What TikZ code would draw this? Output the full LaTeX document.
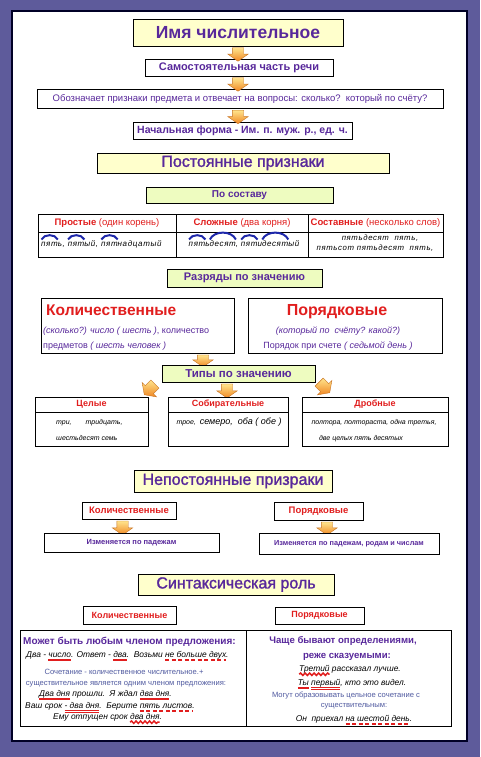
\documentclass[tikz,border=0pt]{standalone}
\usepackage{fontspec}
\setmainfont{Liberation Sans}
\usetikzlibrary{shapes.arrows,decorations.pathmorphing,calc}
\definecolor{framec}{RGB}{94,91,155}
\definecolor{ptext}{RGB}{88,40,155}
\definecolor{ured}{RGB}{225,30,30}
\definecolor{yfill}{RGB}{255,255,204}
\definecolor{gfill}{RGB}{238,252,192}
\definecolor{slate}{RGB}{80,90,160}
\definecolor{rootblue}{RGB}{30,40,170}
\definecolor{arrtop}{RGB}{255,228,140}
\definecolor{arrbot}{RGB}{240,135,35}
\definecolor{arredge}{RGB}{200,115,35}
\newsavebox\ulbox
\newdimen\ulw
\newcommand\ulsolid[1]{\sbox\ulbox{#1}\ulw=\wd\ulbox\rlap{\tikz[overlay]\draw[ured,line width=2pt](0pt,-2.6pt)--(\the\ulw,-2.6pt);}\usebox\ulbox}
\newcommand\uldouble[1]{\sbox\ulbox{#1}\ulw=\wd\ulbox\rlap{\tikz[overlay]{\draw[ured,line width=1.4pt](0pt,-2.2pt)--(\the\ulw,-2.2pt);\draw[ured,line width=1.4pt](0pt,-4.6pt)--(\the\ulw,-4.6pt);}}\usebox\ulbox}
\newcommand\uldash[1]{\sbox\ulbox{#1}\ulw=\wd\ulbox\rlap{\tikz[overlay]\draw[ured,line width=2pt,dash pattern=on 4pt off 2.5pt](0pt,-3pt)--(\the\ulw,-3pt);}\usebox\ulbox}
\newcommand\ulwave[1]{\sbox\ulbox{#1}\ulw=\wd\ulbox\rlap{\tikz[overlay]\draw[ured,line width=1.5pt,decorate,decoration={snake,amplitude=1.2pt,segment length=4.5pt}](0pt,-3.2pt)--(\the\ulw,-3.2pt);}\usebox\ulbox}
\newcommand\rootw[1]{\sbox\ulbox{#1}\ulw=\wd\ulbox\rlap{\tikz[overlay]\draw[rootblue,line width=2pt](0.3pt,6.5pt) to[bend left=65] (\the\ulw,6.5pt);}\usebox\ulbox}
\newcommand\fsz[1]{\fontsize{#1}{#1}\selectfont}
\newcommand\cell[7]{\node[#6, minimum width={(#4-#2)*1pt}, minimum height={(#5-#3)*1pt}] (#1) at ({(#2+#4)/2},{(#3+#5)/2}) {#7};}
\begin{document}
\begin{tikzpicture}[x=1pt,y=-1pt,
  box/.style={draw=black, line width=0.8pt, fill=white, inner sep=0pt, align=center, text=ptext},
  ybox/.style={box, fill=yfill},
  gbox/.style={box, fill=gfill},
  rbox/.style={box, text=ured},
  txt/.style={inner sep=0pt, text=ptext},
  ex/.style={inner sep=0pt, text=black, font=\fsz{8.4}\itshape},
  sl/.style={inner sep=0pt, text=slate, font=\fsz{7.6}},
  barrow/.style={single arrow, draw=arredge, line width=0.4pt, top color=arrtop, bottom color=arrbot,
    minimum height=13.5pt, minimum width=20pt, single arrow head extend=4.5pt,
    single arrow tip angle=110, inner xsep=0pt, inner ysep=5.5pt}]
\useasboundingbox (0,0) rectangle (480,757);
\fill[framec] (0,0) rectangle (480,757);
\draw[line width=1.3pt, draw=black!85!blue, fill=white] (12,11) rectangle (467,741);

% top chain
\cell{title}{133}{19}{343}{46}{ybox}{\fsz{17.5}\bfseries Имя числительное}
\cell{samost}{145}{59}{333}{76}{box}{\fsz{11}\bfseries Самостоятельная часть речи}
\cell{oboz}{37}{89}{443}{108}{box}{\fsz{9.5}Обозначает признаки предмета и отвечает на вопросы: сколько?\ \ который по счёту?}
\cell{nach}{133}{122}{352}{139}{box}{\fsz{10.5}\bfseries Начальная форма - Им. п. муж. р., ед. ч.}
\node[barrow, rotate=-90] (a1) at (238,52.5) {};
\node[barrow, rotate=-90] (a2) at (238,82.5) {};
\node[barrow, rotate=-90] (a3) at (238,115) {};

\cell{post}{97}{153}{389}{173}{ybox}{\fsz{16}\addfontfeature{FakeBold=1.5}Постоянные признаки}
\cell{sostav}{146}{187}{333}{203}{gbox}{\fsz{10}\bfseries По составу}

% composition table
\cell{t11}{38}{214}{176}{232}{rbox}{\fsz{9.5}\textbf{Простые} (один корень)}
\cell{t12}{176}{214}{308}{232}{rbox}{\fsz{9.5}\textbf{Сложные} (два корня)}
\cell{t13}{308}{214}{443}{232}{rbox}{\fsz{9.5}\textbf{Составные} (несколько слов)}
\cell{t21}{38}{232}{176}{257}{box}{}
\cell{t22}{176}{232}{308}{257}{box}{}
\cell{t23}{308}{232}{443}{257}{box}{}
\node[ex, anchor=base west, font=\fsz{8}\itshape\addfontfeature{LetterSpace=8}] (r1) at (41,246) {\rootw{пят}ь, \rootw{пят}ый, \rootw{пят}надцатый};
\node[ex, anchor=base, font=\fsz{8}\itshape\addfontfeature{LetterSpace=8}] (r2) at (244,246) {\rootw{пят}ь\rootw{десят}, \rootw{пят}и\rootw{десят}ый};
\node[ex, anchor=base, font=\fsz{7.8}\itshape\addfontfeature{LetterSpace=8}] (r3a) at (380,240) {пятьдесят\ \ пять,};
\node[ex, anchor=base, font=\fsz{7.8}\itshape\addfontfeature{LetterSpace=8}] (r3b) at (375,250) {пятьсот пятьдесят\ \ пять,};

% categories
\cell{razr}{167}{269}{322}{287}{gbox}{\fsz{11}\bfseries Разряды по значению}
\cell{kol}{41}{298}{234}{353}{box}{}
\cell{por}{248}{298}{442}{353}{box}{}
\node[txt, anchor=base west, text=ured, font=\fsz{15.5}\bfseries] (kolT) at (46,315) {Количественные};
\node[txt, anchor=base west, font=\fsz{9}] (kol1) at (43,333) {\textit{(сколько?) число ( шесть )}, количество};
\node[txt, anchor=base west, font=\fsz{9}] (kol2) at (43,348) {предметов \textit{( шесть человек )}};
\node[txt, anchor=base, text=ured, font=\fsz{16}\bfseries] (porT) at (337,315) {Порядковые};
\node[txt, anchor=base, font=\fsz{9}\itshape] (por1) at (338,333) {(который по\ \ счёту? какой?)};
\node[txt, anchor=base, font=\fsz{9}] (por2) at (338,348) {Порядок при счете \textit{( седьмой день )}};

\node[barrow, rotate=-90, minimum height=12pt] (a4) at (203,359) {};
\cell{tipy}{162}{365}{315}{382}{gbox}{\fsz{11.5}\bfseries Типы по значению}
\node[barrow, rotate=-135, minimum height=15pt] (a5) at (151,388) {};
\node[barrow, rotate=-90, minimum height=14pt] (a6) at (227,389) {};
\node[barrow, rotate=-45, minimum height=15pt] (a7) at (323,386) {};

\cell{cel1}{35}{397}{148}{412}{rbox}{\fsz{9}\bfseries Целые}
\cell{cel2}{35}{412}{148}{446}{box}{}
\cell{sob1}{168}{397}{288}{412}{rbox}{\fsz{9}\bfseries Собирательные}
\cell{sob2}{168}{412}{288}{446}{box}{}
\cell{dro1}{302}{397}{448}{412}{rbox}{\fsz{9}\bfseries Дробные}
\cell{dro2}{302}{412}{448}{446}{box}{}
\node[ex, anchor=base west, font=\fsz{7}\itshape] (c1) at (56,424) {три,\qquad тридцать,};
\node[ex, anchor=base west, font=\fsz{7}\itshape] (c2) at (56,440) {шестьдесят семь};
\node[ex, anchor=base, font=\fsz{7}\itshape] (s1) at (229,424) {трое,\ \ {\fsz{9}семеро,\ \ оба ( обе )}};
\node[ex, anchor=base, font=\fsz{7}\itshape] (d1) at (374,424) {полтора, полтораста, одна третья,};
\node[ex, anchor=base, font=\fsz{7}\itshape] (d2) at (361,440) {две целых пять десятых};

% non-constant
\cell{nepost}{134}{470}{332}{492}{ybox}{\fsz{16}\addfontfeature{FakeBold=1.5}Непостоянные призраки}
\cell{kolB}{82}{502}{176}{519}{rbox}{\fsz{9.5}\bfseries Количественные}
\cell{porB}{274}{502}{363}{520}{rbox}{\fsz{9.5}\bfseries Порядковые}
\node[barrow, rotate=-90, minimum height=14pt] (a8) at (122.5,526) {};
\node[barrow, rotate=-90, minimum height=13pt] (a9) at (327,526.5) {};
\cell{izm1}{44}{533}{219}{552}{box}{\fsz{7.5}\bfseries Изменяется по падежам}
\cell{izm2}{259}{533}{439}{554}{box}{\fsz{7.3}\bfseries Изменяется по падежам, родам и числам}

% syntax role
\cell{sint}{138}{574}{334}{595}{ybox}{\fsz{16}\addfontfeature{FakeBold=1.5}Синтаксическая роль}
\cell{kolC}{83}{606}{176}{624}{rbox}{\fsz{9}\bfseries Количественные}
\cell{porC}{275}{607}{364}{624}{rbox}{\fsz{9}\bfseries Порядковые}
\cell{bl}{20}{630}{246}{726}{box}{}
\cell{br}{246}{630}{451}{726}{box}{}

\node[txt, anchor=base west, font=\fsz{10}\bfseries] (l1) at (23,644) {Может быть любым членом предложения:};
\node[ex, anchor=base west] (l2) at (26,657) {Два - \ulsolid{число}. Ответ - \ulsolid{два}.\ \ Возьми \uldash{не больше двух}.};
\node[sl, anchor=base] (l3) at (124,674) {Сочетание - количественное числительное.+};
\node[sl, anchor=base] (l4) at (126,685) {существительное является одним членом предложения:};
\node[ex, anchor=base west] (l5) at (39,696) {\ulsolid{Два дня} прошли.\ \ Я ждал \ulsolid{два дня}.};
\node[ex, anchor=base west] (l6) at (25,708) {Ваш срок \uldouble{- два дня}.\ \ Берите \uldash{пять листов}.};
\node[ex, anchor=base west] (l7) at (53,719) {Ему отпущен срок \ulwave{два дня}.};

\node[txt, anchor=base, font=\fsz{9.6}\bfseries] (p1) at (343,643) {Чаще бывают определениями,};
\node[txt, anchor=base, font=\fsz{9.6}\bfseries] (p2) at (347,658) {реже сказуемыми:};
\node[ex, anchor=base] (p3) at (350,671) {\ulwave{Третий} рассказал лучше.};
\node[ex, anchor=base] (p4) at (352,685) {\ulsolid{Ты} \uldouble{первый}, кто это видел.};
\node[sl, anchor=base] (p5) at (346,697) {Могут образовывать цельное сочетание с};
\node[sl, anchor=base] (p6) at (354,707) {существительным:};
\node[ex, anchor=base] (p7) at (354,721) {Он\ \ приехал \uldash{на шестой день}.};
\end{tikzpicture}
\end{document}
